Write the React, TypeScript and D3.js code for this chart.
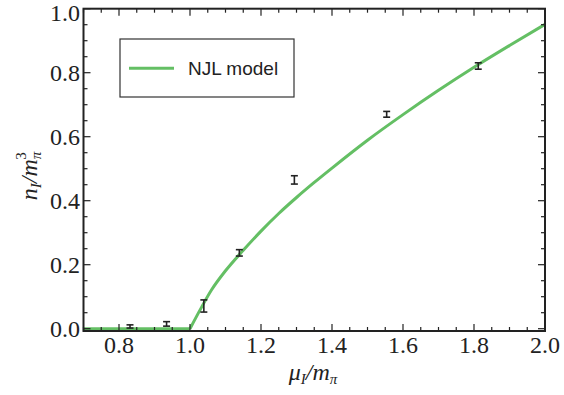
import * as d3 from 'd3'

// lattice points: mu_I/m_pi, n_I/m_pi^3, error
const latMu = [0.831, 0.934, 1.039, 1.139, 1.294, 1.554, 1.812]
const latN = [0.007, 0.015, 0.071, 0.237, 0.465, 0.670, 0.821]
const latErr = [0.005, 0.007, 0.019, 0.010, 0.013, 0.009, 0.010]

// NJL model curve
const njlMu = [0.7, 0.8, 0.9, 1.0, 1.03, 1.06, 1.1, 1.15, 1.2, 1.25, 1.3, 1.35, 1.4, 1.5, 1.6, 1.7, 1.8, 1.9, 2.0]
const njlN = [0, 0, 0, 0, 0.062, 0.12, 0.181, 0.245, 0.305, 0.36, 0.41, 0.457, 0.502, 0.589, 0.669, 0.745, 0.817, 0.885, 0.951]

const xTicks = [0.8, 1.0, 1.2, 1.4, 1.6, 1.8, 2.0]
const yTicks = [0.0, 0.2, 0.4, 0.6, 0.8, 1.0]

const W = 564, H = 395
const green = '#64bf64'
const ink = '#222'
const serif = '"Liberation Serif"'

const left = 83.5, right = 545, top = 8.7, bottom = 331
const x = d3.scaleLinear().domain([0.7, 2.0]).range([left, right])
const y = d3.scaleLinear().domain([0, 1]).range([328.7, top])
const fmt = d3.format('.1f')

export default function App() {
  const pts = njlMu.map((m, i) => [m, njlN[i]] as [number, number])
  const k = njlMu.indexOf(1.0)
  const flat = d3.line<[number, number]>().x(d => x(d[0])).y(d => y(d[1]))
  const rise = d3.line<[number, number]>().x(d => x(d[0])).y(d => y(d[1])).curve(d3.curveMonotoneX)

  const isMajor = (v: number) => Math.abs(v * 5 - Math.round(v * 5)) < 1e-6
  const xMinor = d3.range(0.7, 2.0001, 0.05)
  const yMinor = d3.range(0, 1.0001, 0.05)
  const cap = 3.5

  return (
    <svg width={W} height={H} viewBox={`0 0 ${W} ${H}`}
      style={{ position: 'absolute', left: 0, top: 0, background: '#fff' }}>
      <path d={flat(pts.slice(0, k + 1)) ?? ''} fill="none" stroke={green} strokeWidth={3} />
      <path d={rise(pts.slice(k)) ?? ''} fill="none" stroke={green} strokeWidth={3} />

      {latMu.map((m, i) => {
        const cx = x(m), y0 = y(latN[i] - latErr[i]), y1 = y(latN[i] + latErr[i])
        return (
          <g key={i} stroke={ink} strokeWidth={1.6}>
            <line x1={cx} x2={cx} y1={y0} y2={y1} />
            <line x1={cx - cap} x2={cx + cap} y1={y0} y2={y0} />
            <line x1={cx - cap} x2={cx + cap} y1={y1} y2={y1} />
          </g>
        )
      })}

      <g stroke={ink} strokeWidth={1.2}>
        {xMinor.map((v, i) => {
          const len = isMajor(v) ? 7 : 4
          return (
            <g key={'x' + i}>
              <line x1={x(v)} x2={x(v)} y1={bottom} y2={bottom - len} />
              <line x1={x(v)} x2={x(v)} y1={top} y2={top + len} />
            </g>
          )
        })}
        {yMinor.map((v, i) => {
          const len = isMajor(v) ? 7 : 4
          return (
            <g key={'y' + i}>
              <line x1={left} x2={left + len} y1={y(v)} y2={y(v)} />
              <line x1={right} x2={right - len} y1={y(v)} y2={y(v)} />
            </g>
          )
        })}
      </g>

      <rect x={left} y={top} width={right - left} height={bottom - top} fill="none" stroke={ink} strokeWidth={2} />

      <g fill={ink} fontSize={24} style={{ fontFamily: serif }}>
        {xTicks.map(v => (
          <text key={'xt' + v} x={x(v)} y={353} textAnchor="middle">{fmt(v)}</text>
        ))}
        {yTicks.map(v => (
          <text key={'yt' + v} x={80} y={Math.max(y(v) + 8, 20.5)} textAnchor="end">{fmt(v)}</text>
        ))}

        <text x={313} y={380} textAnchor="middle" fontStyle="italic">
          <tspan>μ</tspan>
          <tspan fontSize={15} dy={4}>I</tspan>
          <tspan dy={-4}>/m</tspan>
          <tspan fontSize={15} dy={4}>π</tspan>
        </text>

        <text transform="translate(37,176) rotate(-90)" textAnchor="middle" fontStyle="italic">
          <tspan>n</tspan>
          <tspan fontSize={15} dy={4}>I</tspan>
          <tspan dy={-4}>/m</tspan>
          <tspan fontSize={15} dy={4}>π</tspan>
          <tspan fontSize={15} dx={-8} dy={-15} fontStyle="normal">3</tspan>
        </text>
      </g>

      <rect x={120} y={39} width={174} height={58} fill="#fff" stroke="#333" strokeWidth={1.2} />
      <line x1={129} x2={174} y1={68.3} y2={68.3} stroke={green} strokeWidth={3} />
      <text x={188} y={75} fontSize={19} fill={ink} style={{ fontFamily: '"Liberation Sans"' }}>NJL model</text>
    </svg>
  )
}
